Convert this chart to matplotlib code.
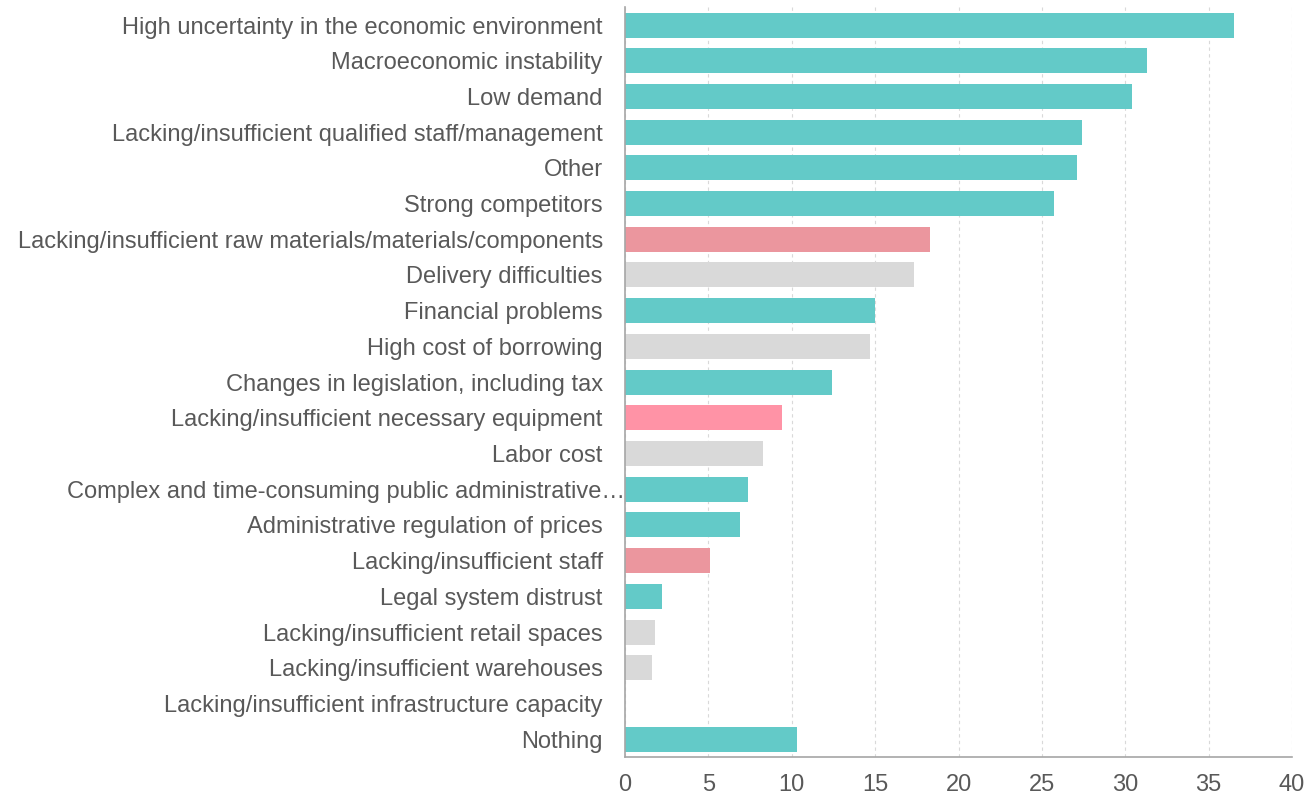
import matplotlib.pyplot as plt
import matplotlib.transforms as mtransforms

plt.rcParams['font.family'] = ['Liberation Sans', 'DejaVu Sans']

categories = [
    "High uncertainty in the economic environment",
    "Macroeconomic instability",
    "Low demand",
    "Lacking/insufficient qualified staff/management",
    "Other",
    "Strong competitors",
    "Lacking/insufficient raw materials/materials/components",
    "Delivery difficulties",
    "Financial problems",
    "High cost of borrowing",
    "Changes in legislation, including tax",
    "Lacking/insufficient necessary equipment",
    "Labor cost",
    "Complex and time-consuming public administrative\u2026",
    "Administrative regulation of prices",
    "Lacking/insufficient staff",
    "Legal system distrust",
    "Lacking/insufficient retail spaces",
    "Lacking/insufficient warehouses",
    "Lacking/insufficient infrastructure capacity",
    "Nothing",
]
values = [36.5, 31.3, 30.4, 27.4, 27.1, 25.7, 18.3, 17.3, 15.0, 14.7, 12.4,
          9.4, 8.25, 7.35, 6.9, 5.1, 2.2, 1.8, 1.6, 0, 10.3]
groups = ["t", "t", "t", "t", "t", "t", "p", "g", "t", "g", "t",
          "r", "g", "t", "t", "p", "t", "g", "g", "t", "t"]

palette = {"t": "#63cac8", "p": "#eb969e", "g": "#d9d9d9", "r": "#ff93a6"}
colors = [palette[g] for g in groups]

fig = plt.figure(figsize=(13.14, 7.96), dpi=100)
ax = fig.add_axes([0.4757, 0.049, 0.5076, 0.942])

y = list(range(len(categories)))
ax.barh(y, values, height=0.7, color=colors, zorder=2)
ax.set_yticks(y)
ax.set_yticklabels(categories)
ax.set_ylim(len(categories) - 0.5, -0.5)
ax.set_xlim(0, 40)
ax.set_xticks(range(0, 41, 5))

text_color = "#595959"
ax.tick_params(axis="y", length=0, pad=16, labelsize=17, labelcolor=text_color)
ax.tick_params(axis="x", length=0, pad=12, labelsize=17, labelcolor=text_color)

ax.grid(axis="x", color="#d9d9d9", linestyle=(0, (3, 3)), linewidth=0.8, zorder=0)
for s in ["top", "right"]:
    ax.spines[s].set_visible(False)
ax.spines["left"].set_color("#a6a6a6")
ax.spines["bottom"].set_color("#a6a6a6")
ax.spines["left"].set_linewidth(1.2)
ax.spines["bottom"].set_linewidth(1.2)
ax.spines["left"].set_zorder(3)

# the truncated label sits further right, up to the axis
lbl = ax.get_yticklabels()[13]
lbl.set_transform(lbl.get_transform() + mtransforms.ScaledTranslation(0.22, 0, fig.dpi_scale_trans))

fig.savefig("out.png", dpi=100)
